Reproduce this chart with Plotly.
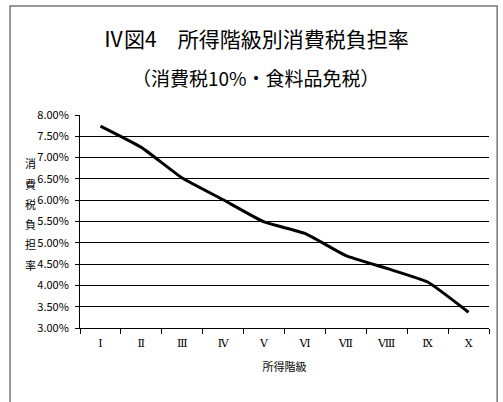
import plotly.graph_objects as go

categories = ["Ⅰ", "Ⅱ", "Ⅲ", "Ⅳ", "Ⅴ", "Ⅵ", "Ⅶ", "Ⅷ", "Ⅸ", "Ⅹ"]
burden_rate = [0.0774, 0.0724, 0.0652, 0.0601, 0.0549, 0.0522, 0.0470, 0.0440, 0.0408, 0.0337]
y_ticks = [0.03, 0.035, 0.04, 0.045, 0.05, 0.055, 0.06, 0.065, 0.07, 0.075, 0.08]
y_title_chars = ["消", "費", "税", "負", "担", "率"]

FONT = "Noto Sans CJK JP"
ROMAN_FONT = "DejaVu Serif, DejaVu Sans"

fig = go.Figure()
fig.add_trace(go.Scatter(
    x=categories, y=burden_rate, mode="lines",
    line=dict(color="black", width=3, shape="spline", smoothing=0.4),
    showlegend=False, hoverinfo="skip",
))

annotations = [
    dict(text="Ⅳ図4　所得階級別消費税負担率", xref="paper", yref="paper",
         x=0.43, y=1.36, xanchor="center", yanchor="middle", showarrow=False,
         font=dict(size=21, family=FONT)),
    dict(text="（消費税10%・食料品免税）", xref="paper", yref="paper",
         x=0.43, y=1.175, xanchor="center", yanchor="middle", showarrow=False,
         font=dict(size=19, family=FONT)),
]
n = len(y_title_chars)
for i, ch in enumerate(y_title_chars):
    annotations.append(dict(
        text=ch, xref="paper", yref="paper",
        x=-0.12, y=0.535 + ((n - 1) / 2 - i) * 0.095,
        xanchor="center", yanchor="middle", showarrow=False,
        font=dict(size=11, family=FONT)))

fig.update_layout(
    width=503, height=402,
    margin=dict(l=80, r=14, t=115, b=74),
    paper_bgcolor="white", plot_bgcolor="white",
    font=dict(family=FONT, color="black", size=11),
    xaxis=dict(
        type="category", tickson="boundaries", ticks="outside", ticklen=5,
        range=[-0.5, 9.5], ticklabelstandoff=5,
        tickcolor="black", showline=True, linecolor="black", linewidth=1,
        showgrid=False, tickfont=dict(size=11, family=ROMAN_FONT),
        title=dict(text="所得階級", font=dict(size=11, family=FONT), standoff=14),
    ),
    yaxis=dict(
        range=[0.03, 0.08], tickvals=y_ticks, tickformat=".2%",
        ticks="outside", ticklen=4, tickcolor="black", ticklabelstandoff=4,
        showline=True, linecolor="black", linewidth=1,
        showgrid=True, gridcolor="black", gridwidth=1,
        tickfont=dict(size=11, family=FONT), zeroline=False,
    ),
    annotations=annotations,
    shapes=[
        dict(type="rect", xref="paper", yref="paper",
             x0=-0.171, x1=1.020, y0=-0.36, y1=1.512,
             line=dict(color="#777777", width=1.5), layer="below"),
    ],
)

fig.write_html("out.html", config={"displayModeBar": False},
               post_script="document.body.style.margin='0';")
